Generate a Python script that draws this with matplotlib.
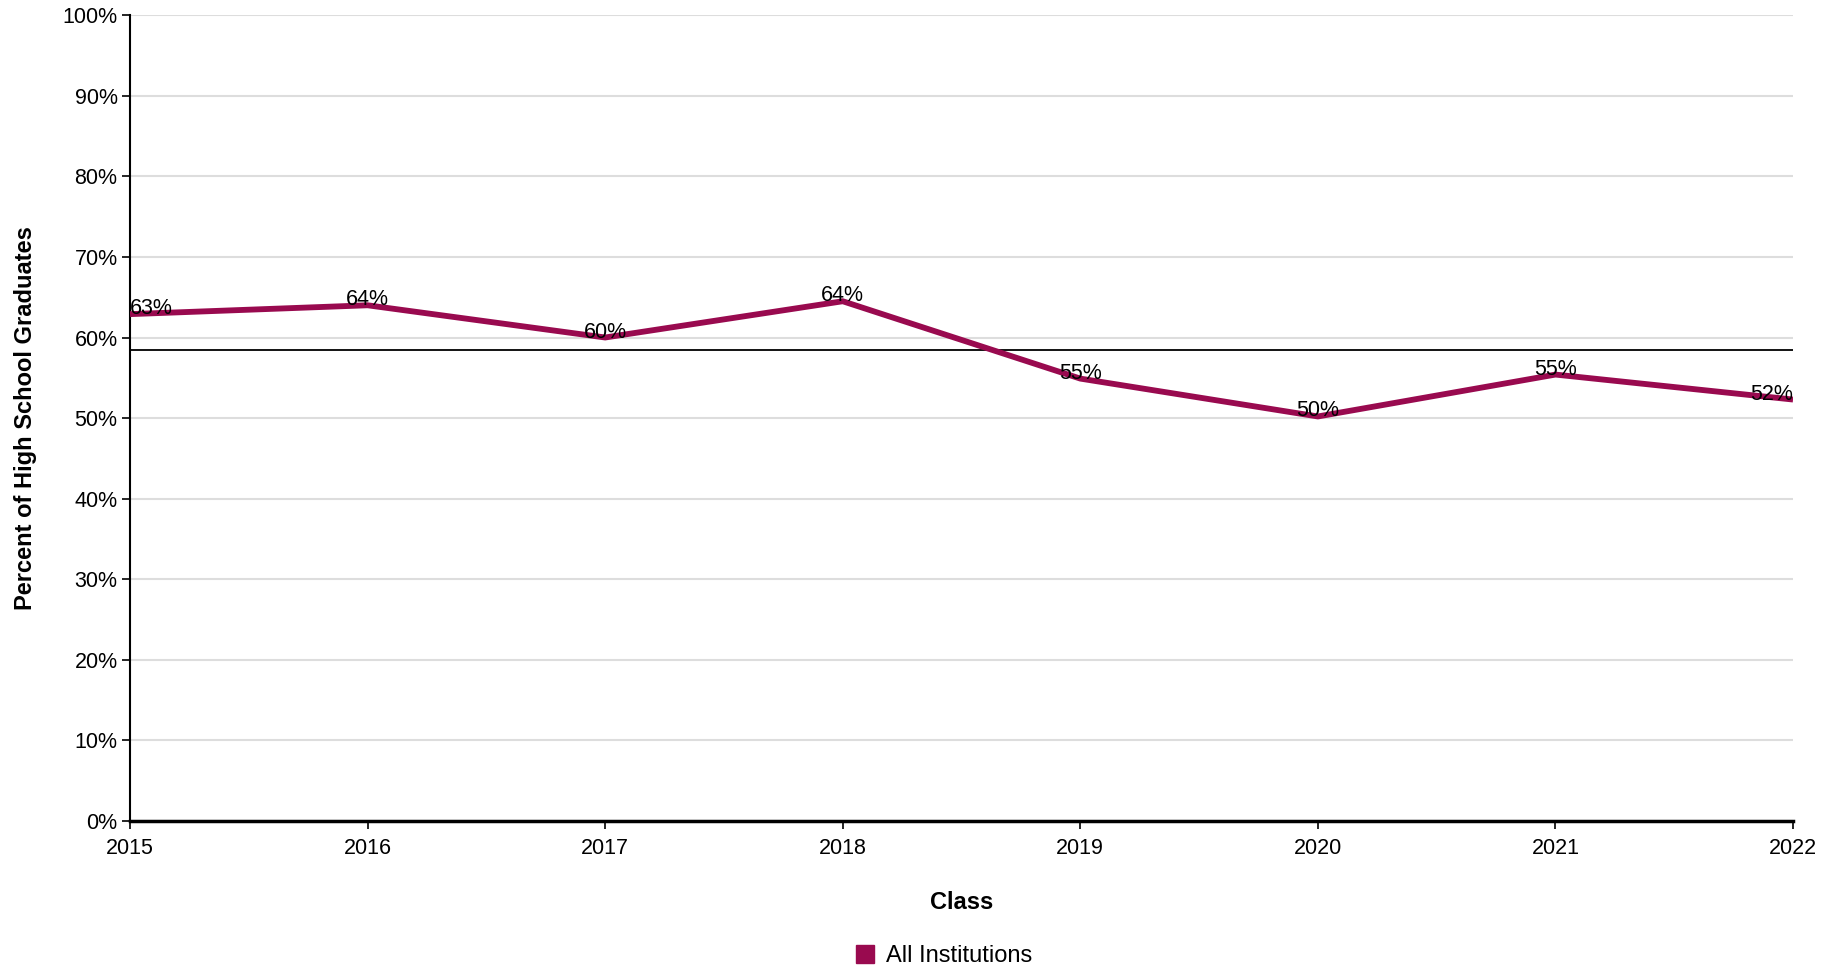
import matplotlib.pyplot as plt
from matplotlib.lines import Line2D

plt.rcParams['font.family'] = ['Liberation Sans', 'DejaVu Sans']

# data
years = [2015, 2016, 2017, 2018, 2019, 2020, 2021, 2022]
pct = [62.9, 64.0, 60.0, 64.5, 54.9, 50.2, 55.4, 52.3]
avg_line = 58.5
series_name = 'All Institutions'
line_color = '#990a4f'

fig = plt.figure(figsize=(18.39, 9.68), dpi=100)
ax = fig.add_axes([0.0707, 0.1519, 0.9043, 0.8324])

ax.plot(years, pct, color=line_color, lw=4.2, solid_capstyle='butt',
        solid_joinstyle='miter', zorder=3)
ax.axhline(avg_line, color='black', lw=1.3, zorder=2)

for i, (yr, v) in enumerate(zip(years, pct)):
    ha = 'center'
    if i == 0:
        ha = 'left'
    elif i == len(years) - 1:
        ha = 'right'
    ax.annotate(f'{round(v):.0f}%', (yr, v), xytext=(0, 0), textcoords='offset points',
                ha=ha, va='baseline', fontsize=15.5, zorder=4)

ax.set_xlim(years[0], years[-1])
ax.set_ylim(0, 100)
ax.set_xticks(years)
ax.set_xticklabels([str(y) for y in years])
ax.set_yticks(range(0, 101, 10))
ax.set_yticklabels([f'{t}%' for t in range(0, 101, 10)])
ax.yaxis.grid(True, color='#dddddd', lw=1.5)
ax.set_axisbelow(True)

for s in ['top', 'right']:
    ax.spines[s].set_visible(False)
ax.spines['left'].set_linewidth(1.5)
ax.spines['bottom'].set_linewidth(2.5)
ax.tick_params(axis='both', labelsize=15.5, length=6, width=1.2, direction='out')
ax.tick_params(axis='y', pad=3)
ax.tick_params(axis='x', pad=6)

ax.set_ylabel('Percent of High School Graduates', fontsize=17, fontweight='bold')
ax.yaxis.set_label_coords(-0.0559, 0.5)
ax.set_xlabel('Class', fontsize=17, fontweight='bold')
ax.xaxis.set_label_coords(0.5, -0.0868)

handle = Line2D([], [], marker='s', ls='none', color=line_color, markersize=13)
fig.legend([handle], [series_name], loc='center', bbox_to_anchor=(0.5128, 0.0125),
           frameon=False, fontsize=17, handlelength=1.0, handletextpad=0.39,
           borderaxespad=0)

fig.savefig('out.png', dpi=100)
